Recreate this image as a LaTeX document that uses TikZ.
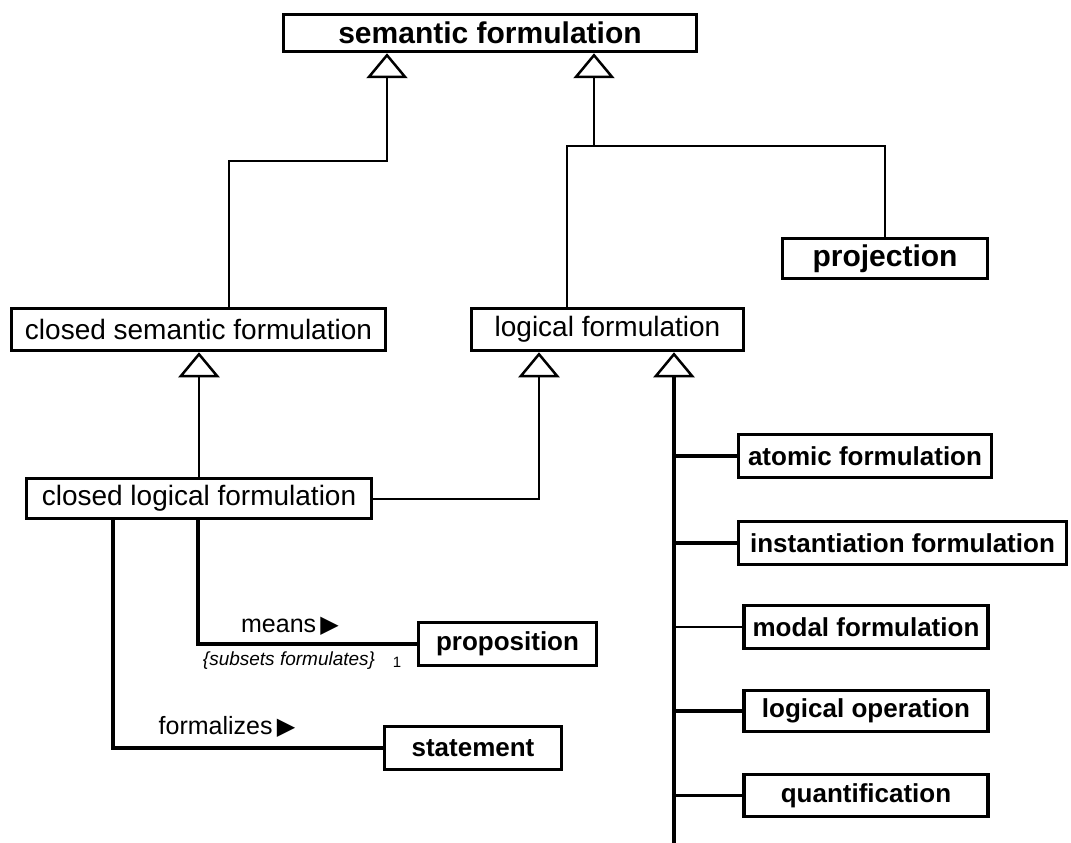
\documentclass[tikz,border=0pt]{standalone}
\usepackage{fontspec}
\setmainfont{Liberation Sans}
\newfontfamily\symfont{DejaVu Sans}
\usetikzlibrary{arrows.meta}

\begin{document}
\begin{tikzpicture}[x=1pt,y=-1pt,
            box/.style={draw,line width=3.5pt,inner sep=0pt,minimum height=42pt,minimum width=#1},
            box/.default=200pt,
            bigtext/.style={font=\bfseries\fontsize{30}{36}\selectfont},
            midtext/.style={font=\fontsize{28}{34}\selectfont},
            smalltext/.style={font=\bfseries\fontsize{26}{31}\selectfont},
            gen/.style={line width=2pt,-{Triangle[open,length=25pt,width=41pt,line width=2.5pt]}},
            link/.style={line width=#1},
            link/.default=2pt]

        \useasboundingbox (0,0) rectangle (1071,843);

        \node [box=413pt, minimum height=37pt, bigtext] at (490, 33) (sem) {semantic formulation};
        \node [box=205pt, minimum height=40pt, bigtext] at (885, 258.5) (proj) {projection};
        \node [box=374pt, midtext] at (198.5, 329.5) (csf) {closed semantic formulation};
        \node [box=272pt, midtext] at (607.5, 329.5) (lf) {logical formulation};
        \node [box=345pt, minimum height=40pt, midtext] at (199, 498.5) (clf) {closed logical formulation};
        \node [box=178pt, minimum height=43pt, smalltext] at (507.5, 644) (prop) {proposition};
        \node [box=177pt, minimum height=43pt, smalltext] at (473, 748) (stmt) {statement};
        \node [box=253pt, minimum height=43pt, smalltext] at (865, 456) (atomic) {atomic formulation};
        \node [box=328pt, minimum height=43pt, smalltext] at (902.5, 543) (inst) {instantiation formulation};
        \node [box=244pt, minimum height=43pt, smalltext] at (866, 627) (modal) {modal formulation};
        \node [box=244pt, minimum height=41pt, smalltext] at (866, 711) (logop) {logical operation};
        \node [box=244pt, minimum height=42pt, smalltext] at (866, 795.5) (quant) {quantification};

        \coordinate (jl) at (387, 161);
        \coordinate (jr) at (594, 146);
        \coordinate (trunkend) at (674, 843);

        \draw [gen] ([xshift=30.5pt]csf.north) |- (jl) -- (jl |- sem.south);
        \draw [gen] (jr) -- (jr |- sem.south);
        \draw [link] ([xshift=-40.5pt]lf.north) |- (jr) -| (proj.north);
        \draw [gen] (clf.north) -- (clf.north |- csf.south);
        \draw [gen] (clf.east) -| ([xshift=-68.5pt]lf.south);
        \draw [gen, link=4pt] (trunkend) -- ([xshift=66.5pt]lf.south);

        \draw [link=4.5pt] (atomic.west) -- (atomic.west -| trunkend);
        \draw [link=4.5pt] (inst.west) -- (inst.west -| trunkend);
        \draw [link=2.5pt] (modal.west) -- (modal.west -| trunkend);
        \draw [link=4.5pt] (logop.west) -- (logop.west -| trunkend);
        \draw [link=3pt] (quant.west) -- (quant.west -| trunkend);

        \draw [link=4pt] ([xshift=-86pt]clf.south) |- (stmt.west);
        \draw [link=3.5pt] ([xshift=-1pt]clf.south) |- (prop.west);

        \node [font=\fontsize{25}{30}\selectfont] at (290, 626) (means) {means\,{\symfont\fontsize{24}{28}\selectfont ▶}};
        \node [font=\itshape\fontsize{19}{22}\selectfont] at (289, 661) (role) {\{subsets formulates\}};
        \node [font=\fontsize{15}{18}\selectfont] at (397, 662) (mult) {1};
        \node [font=\fontsize{25}{30}\selectfont] at (227, 727) (formalizes) {formalizes\,{\symfont\fontsize{24}{28}\selectfont ▶}};

    \end{tikzpicture}
\end{document}
